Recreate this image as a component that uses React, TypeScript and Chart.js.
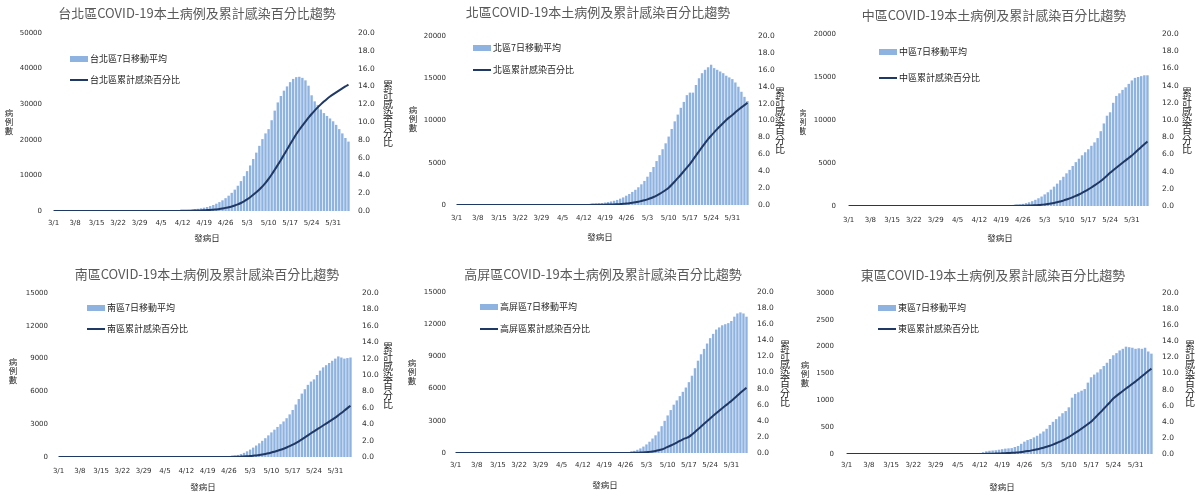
import React, { useEffect, useRef } from 'react';
import { Chart, registerables } from 'chart.js';

Chart.register(...registerables);

// ---------- categories ----------
const dates = [
  '3/1','3/2','3/3','3/4','3/5','3/6','3/7','3/8','3/9','3/10','3/11','3/12','3/13','3/14',
  '3/15','3/16','3/17','3/18','3/19','3/20','3/21','3/22','3/23','3/24','3/25','3/26','3/27','3/28',
  '3/29','3/30','3/31','4/1','4/2','4/3','4/4','4/5','4/6','4/7','4/8','4/9','4/10','4/11',
  '4/12','4/13','4/14','4/15','4/16','4/17','4/18','4/19','4/20','4/21','4/22','4/23','4/24','4/25',
  '4/26','4/27','4/28','4/29','4/30','5/1','5/2','5/3','5/4','5/5','5/6','5/7','5/8','5/9',
  '5/10','5/11','5/12','5/13','5/14','5/15','5/16','5/17','5/18','5/19','5/20','5/21','5/22','5/23',
  '5/24','5/25','5/26','5/27','5/28','5/29','5/30','5/31','6/1','6/2','6/3','6/4','6/5',
];

const shownTicks = ['3/1','3/8','3/15','3/22','3/29','4/5','4/12','4/19','4/26','5/3','5/10','5/17','5/24','5/31'];

// ---------- series: 7-day moving average of cases ----------
const taipeiCases = [
  0,0,0,1,1,1,1,1,2,2,2,2,3,3,
  3,4,4,5,5,6,6,7,8,9,10,11,12,14,
  16,18,20,23,27,32,38,45,55,68,85,105,130,160,
  200,250,320,400,500,620,760,930,1130,1380,1680,2050,2500,3000,
  3600,4300,5100,6000,7100,8400,9800,11200,12800,14600,16400,18300,20200,21800,
  23000,25500,28200,30500,32300,33800,35000,36200,37100,37600,37700,37400,36700,35200,
  32500,30800,29800,28500,27500,26700,26000,25200,24200,23000,21800,20500,19500,
];
const northCases = [
  1,1,1,1,1,1,2,2,2,2,2,3,3,3,
  3,4,4,4,5,5,6,6,7,8,9,10,11,12,
  13,15,17,19,22,25,29,33,38,44,51,60,70,82,
  96,112,130,150,175,205,240,290,350,420,500,600,750,900,
  1100,1300,1550,1800,2100,2450,2850,3350,3900,4500,5200,5900,6600,7300,
  8100,9000,9900,10700,11500,12200,13000,13300,13300,14200,15000,15600,16000,16300,
  16600,16200,16000,15800,15600,15300,15100,14900,14500,14000,13400,12800,12300,
];
const centralCases = [
  0,0,0,0,0,0,0,0,0,0,0,1,1,1,
  1,1,1,1,2,2,2,2,2,3,3,3,3,4,
  4,5,5,6,7,8,9,10,11,13,15,18,22,28,
  35,40,45,50,55,62,70,80,90,100,115,130,150,180,
  250,330,430,560,720,900,1100,1350,1600,1900,2250,2600,3000,3400,
  3800,4200,4650,5100,5500,5900,6250,6600,7000,7400,7900,8700,9600,10500,
  10900,12000,12800,13100,13500,13800,14200,14600,14900,15000,15100,15200,15200,
];
const southCases = [
  0,0,0,0,0,0,0,0,0,0,1,1,1,1,
  1,1,1,1,1,2,2,2,2,2,2,3,3,3,
  3,3,4,4,4,5,5,5,6,6,7,7,8,9,
  10,12,14,16,18,20,23,26,30,34,38,43,48,55,
  65,90,130,190,270,380,520,680,860,1050,1250,1480,1720,1980,
  2250,2500,2750,3000,3250,3550,3900,4300,4800,5300,5800,6200,6600,6900,
  7100,7500,7900,8200,8400,8600,8800,9000,9200,9100,9000,9050,9100,
];
const kaopingCases = [
  0,0,0,0,0,0,0,0,0,0,0,1,1,1,
  1,1,1,1,1,1,2,2,2,2,2,2,3,3,
  3,3,3,3,4,4,4,4,5,5,5,6,6,7,
  8,9,10,11,12,13,14,16,18,21,24,28,33,40,
  50,80,130,200,300,430,600,800,1050,1350,1650,2000,2500,3000,
  3500,4000,4500,4900,5300,5700,6100,6600,7200,7900,8600,9200,9700,10200,
  10700,11100,11500,11700,11900,12000,12100,12300,12700,13000,13100,13000,12700,
];
const eastCases = [
  0,0,0,0,0,0,0,0,0,0,0,0,0,0,
  0,0,0,0,0,0,0,0,1,1,1,1,1,1,
  1,1,1,2,2,2,2,3,3,4,5,6,8,12,
  20,35,50,60,65,70,80,90,100,105,110,130,150,190,
  230,260,280,310,340,380,420,470,540,600,650,700,760,800,
  870,1050,1120,1150,1180,1210,1330,1430,1480,1520,1580,1640,1700,1770,
  1840,1880,1930,1960,2000,1990,1980,1960,1970,1960,1980,1910,1870,
];

// ---------- series: cumulative infection percentage ----------
const taipeiPct = [
  0,0,0,0,0,0,0,0,0,0,0,0,0,0,
  0,0,0,0,0,0,0,0,0,0,0,0,0,0,
  0,0,0,0,0,0,0,0,0.01,0.01,0.01,0.01,0.01,0.01,
  0.02,0.02,0.03,0.04,0.05,0.06,0.07,0.08,0.10,0.12,0.15,0.18,0.22,0.28,
  0.35,0.42,0.51,0.62,0.75,0.90,1.08,1.30,1.55,1.82,2.11,2.42,2.76,3.15,
  3.60,4.10,4.63,5.18,5.74,6.31,6.90,7.50,8.07,8.62,9.13,9.60,10.05,10.48,
  10.90,11.28,11.64,11.98,12.30,12.59,12.86,13.10,13.33,13.56,13.78,14.00,14.20,
];
const northPct = [
  0,0,0,0,0,0,0,0,0,0,0,0,0,0,
  0,0,0,0,0,0,0,0,0,0,0,0,0,0,
  0,0,0,0,0,0,0,0,0.01,0.01,0.01,0.01,0.01,0.01,
  0.01,0.01,0.01,0.02,0.02,0.03,0.03,0.04,0.05,0.06,0.07,0.09,0.11,0.14,
  0.17,0.21,0.26,0.32,0.39,0.47,0.56,0.67,0.80,0.95,1.12,1.32,1.54,1.78,
  2.05,2.40,2.78,3.18,3.58,4.00,4.42,4.85,5.35,5.85,6.35,6.85,7.33,7.80,
  8.20,8.60,8.98,9.35,9.71,10.05,10.37,10.65,10.97,11.27,11.55,11.82,12.10,
];
const centralPct = [
  0,0,0,0,0,0,0,0,0,0,0,0,0,0,
  0,0,0,0,0,0,0,0,0,0,0,0,0,0,
  0,0,0,0,0,0,0,0,0,0,0,0,0,0,
  0,0,0,0,0.01,0.01,0.01,0.01,0.01,0.01,0.01,0.01,0.02,0.02,
  0.03,0.04,0.05,0.07,0.09,0.11,0.14,0.18,0.23,0.29,0.36,0.44,0.53,0.63,
  0.75,0.88,1.02,1.17,1.34,1.52,1.72,1.93,2.15,2.39,2.64,2.91,3.20,3.52,
  3.86,4.16,4.45,4.74,5.03,5.31,5.59,5.87,6.20,6.53,6.86,7.19,7.50,
];
const southPct = [
  0,0,0,0,0,0,0,0,0,0,0,0,0,0,
  0,0,0,0,0,0,0,0,0,0,0,0,0,0,
  0,0,0,0,0,0,0,0,0,0,0,0,0,0,
  0,0,0,0,0,0,0,0,0,0,0,0,0.01,0.01,
  0.01,0.02,0.03,0.04,0.05,0.07,0.09,0.12,0.15,0.19,0.24,0.30,0.37,0.45,
  0.55,0.65,0.76,0.88,1.01,1.16,1.32,1.50,1.70,1.91,2.14,2.39,2.64,2.90,
  3.12,3.36,3.60,3.84,4.08,4.32,4.56,4.80,5.08,5.36,5.66,5.96,6.26,
];
const kaopingPct = [
  0,0,0,0,0,0,0,0,0,0,0,0,0,0,
  0,0,0,0,0,0,0,0,0,0,0,0,0,0,
  0,0,0,0,0,0,0,0,0,0,0,0,0,0,
  0,0,0,0,0,0,0,0,0,0,0,0,0,0.01,
  0.01,0.01,0.02,0.03,0.04,0.05,0.07,0.10,0.14,0.19,0.25,0.33,0.43,0.58,
  0.75,0.93,1.11,1.30,1.50,1.70,1.85,2.00,2.30,2.62,2.95,3.28,3.62,3.96,
  4.30,4.62,4.94,5.25,5.56,5.86,6.16,6.46,6.80,7.14,7.47,7.79,8.10,
];
const eastPct = [
  0,0,0,0,0,0,0,0,0,0,0,0,0,0,
  0,0,0,0,0,0,0,0,0,0,0,0,0,0,
  0,0,0,0,0,0,0,0,0,0,0,0,0,0,
  0.01,0.01,0.02,0.03,0.04,0.05,0.06,0.08,0.10,0.12,0.14,0.17,0.20,0.24,
  0.30,0.36,0.42,0.50,0.58,0.68,0.78,0.90,1.03,1.17,1.33,1.50,1.69,1.89,
  2.10,2.36,2.62,2.88,3.15,3.43,3.72,4.00,4.40,4.80,5.20,5.62,6.04,6.46,
  6.90,7.22,7.53,7.83,8.13,8.42,8.71,9.00,9.33,9.66,9.98,10.30,10.60,
];

// ---------- styling / layout ----------
const BAR_COLOR = '#8fb3e1';
const LINE_COLOR = '#1f3864';
const TICK_COLOR = '#2e2e2e';
const TEXT_COLOR = '#1e1e1e';
const TITLE_COLOR = '#595959';
const CJK = '"Noto Sans CJK TC", "Noto Sans CJK SC", sans-serif';
const TICK_FONT = '"DejaVu Sans", sans-serif';

type PanelCfg = {
  key: string;
  name: string;
  cases: number[];
  pct: number[];
  yMax: number;
  yStep: number;
  box: { x: number; y: number; w: number; h: number };
  area: { l: number; r: number; t: number; b: number };
  pad: { l: number; r: number; x: number };
  title: { x: number; y: number };
  legend: { x: number; y: number; gap: number };
  leftTitle: { x: number; y: number };
  rightTitle: { x: number; y: number };
  xTitle: { x: number; y: number };
};

const panels: PanelCfg[] = [
  {
    key: 'taipei', name: '台北區', cases: taipeiCases, pct: taipeiPct, yMax: 50000, yStep: 10000,
    box: { x: 0, y: 0, w: 400, h: 250 }, area: { l: 52, r: 350, t: 33, b: 211 }, pad: { l: 10, r: 8, x: 8 },
    title: { x: 197, y: 13 }, legend: { x: 70, y: 59, gap: 21 },
    leftTitle: { x: 9, y: 113 }, rightTitle: { x: 388, y: 85 }, xTitle: { x: 207, y: 238 },
  },
  {
    key: 'north', name: '北區', cases: northCases, pct: northPct, yMax: 20000, yStep: 5000,
    box: { x: 400, y: 0, w: 400, h: 250 }, area: { l: 55, r: 349, t: 36, b: 205 }, pad: { l: 9, r: 9, x: 9 },
    title: { x: 198, y: 12 }, legend: { x: 73, y: 48, gap: 22 },
    leftTitle: { x: 13, y: 110 }, rightTitle: { x: 380, y: 92 }, xTitle: { x: 200, y: 237 },
  },
  {
    key: 'central', name: '中區', cases: centralCases, pct: centralPct, yMax: 20000, yStep: 5000,
    box: { x: 800, y: 0, w: 399, h: 250 }, area: { l: 47, r: 349, t: 34, b: 206 }, pad: { l: 11, r: 13, x: 10 },
    title: { x: 194, y: 15 }, legend: { x: 79, y: 52, gap: 26 },
    leftTitle: { x: 2, y: 113 }, rightTitle: { x: 387, y: 92 }, xTitle: { x: 200, y: 238 },
  },
  {
    key: 'south', name: '南區', cases: southCases, pct: southPct, yMax: 15000, yStep: 3000,
    box: { x: 0, y: 250, w: 400, h: 245 }, area: { l: 57, r: 352, t: 43, b: 207 }, pad: { l: 9, r: 10, x: 10 },
    title: { x: 207, y: 24 }, legend: { x: 87, y: 58, gap: 21 },
    leftTitle: { x: 13, y: 112 }, rightTitle: { x: 388, y: 97 }, xTitle: { x: 203, y: 237 },
  },
  {
    key: 'kaoping', name: '高屏區', cases: kaopingCases, pct: kaopingPct, yMax: 15000, yStep: 3000,
    box: { x: 400, y: 250, w: 400, h: 245 }, area: { l: 54, r: 348, t: 42, b: 203 }, pad: { l: 8, r: 9, x: 8 },
    title: { x: 203, y: 24 }, legend: { x: 80, y: 57, gap: 22 },
    leftTitle: { x: 12, y: 113 }, rightTitle: { x: 385, y: 95 }, xTitle: { x: 205, y: 235 },
  },
  {
    key: 'east', name: '東區', cases: eastCases, pct: eastPct, yMax: 3000, yStep: 500,
    box: { x: 800, y: 250, w: 399, h: 245 }, area: { l: 45, r: 353, t: 43, b: 204 }, pad: { l: 11, r: 9, x: 7 },
    title: { x: 193, y: 25 }, legend: { x: 78, y: 58, gap: 21 },
    leftTitle: { x: 5, y: 115 }, rightTitle: { x: 390, y: 95 }, xTitle: { x: 202, y: 237 },
  },
];

function makeDecor(p: PanelCfg) {
  return {
    id: 'decor-' + p.key,
    afterDraw(chart: Chart) {
      const ctx = chart.ctx;
      ctx.save();
      ctx.textAlign = 'center';
      ctx.textBaseline = 'middle';
      // title
      ctx.fillStyle = TITLE_COLOR;
      ctx.font = `13px ${CJK}`;
      ctx.fillText(`${p.name}COVID-19本土病例及累計感染百分比趨勢`, p.title.x, p.title.y);
      // legend
      const lx = p.legend.x;
      const ly = p.legend.y;
      ctx.fillStyle = BAR_COLOR;
      ctx.fillRect(lx, ly - 3, 18, 6);
      ctx.strokeStyle = LINE_COLOR;
      ctx.lineWidth = 2;
      ctx.beginPath();
      ctx.moveTo(lx, ly + p.legend.gap);
      ctx.lineTo(lx + 18, ly + p.legend.gap);
      ctx.stroke();
      ctx.fillStyle = TEXT_COLOR;
      ctx.font = `9px ${CJK}`;
      ctx.textAlign = 'left';
      ctx.fillText(`${p.name}7日移動平均`, lx + 20, ly);
      ctx.fillText(`${p.name}累計感染百分比`, lx + 20, ly + p.legend.gap);
      // axis titles (upright stacked characters)
      ctx.textAlign = 'center';
      ctx.font = `8.5px ${CJK}`;
      ['病', '例', '數'].forEach((c, i) => ctx.fillText(c, p.leftTitle.x, p.leftTitle.y + i * 9));
      ctx.font = `10px ${CJK}`;
      ['累', '計', '感', '染', '百', '分', '比'].forEach((c, i) =>
        ctx.fillText(c, p.rightTitle.x, p.rightTitle.y + i * 9.6)
      );
      ctx.font = `8.5px ${CJK}`;
      ctx.fillText('發病日', p.xTitle.x, p.xTitle.y);
      ctx.restore();
    },
  };
}

function Panel({ p }: { p: PanelCfg }) {
  const ref = useRef<HTMLCanvasElement | null>(null);
  useEffect(() => {
    if (!ref.current) return;
    const chart = new Chart(ref.current, {
      type: 'bar',
      data: {
        labels: dates,
        datasets: [
          {
            type: 'line',
            label: `${p.name}累計感染百分比`,
            data: p.pct,
            yAxisID: 'y1',
            borderColor: LINE_COLOR,
            backgroundColor: LINE_COLOR,
            borderWidth: 2,
            pointRadius: 0,
            tension: 0.2,
            order: 0,
          } as any,
          {
            type: 'bar',
            label: `${p.name}7日移動平均`,
            data: p.cases,
            yAxisID: 'y',
            backgroundColor: BAR_COLOR,
            borderWidth: 0,
            barPercentage: 0.78,
            categoryPercentage: 1,
            order: 1,
          } as any,
        ],
      },
      options: {
        responsive: true,
        maintainAspectRatio: false,
        animation: false,
        events: [],
        layout: { padding: { top: p.area.t, left: 0, right: 0, bottom: 0 } },
        plugins: {
          legend: { display: false },
          title: { display: false },
          tooltip: { enabled: false },
        },
        scales: {
          x: {
            grid: { display: false, drawTicks: false },
            border: { display: false },
            ticks: {
              autoSkip: false,
              maxRotation: 0,
              minRotation: 0,
              padding: p.pad.x,
              color: TICK_COLOR,
              font: { family: TICK_FONT, size: 7 },
              callback: (_v: any, i: number) => (shownTicks.includes(dates[i]) ? dates[i] : ''),
            },
            afterFit: (s: any) => {
              s.height = p.box.h - p.area.b;
            },
          },
          y: {
            position: 'left',
            min: 0,
            max: p.yMax,
            grid: { display: false, drawTicks: false },
            border: { display: false },
            ticks: {
              stepSize: p.yStep,
              padding: p.pad.l,
              color: TICK_COLOR,
              font: { family: TICK_FONT, size: 7 },
              callback: (v: any) => String(v),
            },
            afterFit: (s: any) => {
              s.width = p.area.l;
            },
          },
          y1: {
            position: 'right',
            min: 0,
            max: 20,
            grid: { display: false, drawTicks: false },
            border: { display: false },
            ticks: {
              stepSize: 2,
              padding: p.pad.r,
              color: TICK_COLOR,
              font: { family: TICK_FONT, size: 7.5 },
              callback: (v: any) => Number(v).toFixed(1),
            },
            afterFit: (s: any) => {
              s.width = p.box.w - p.area.r;
            },
          },
        },
      } as any,
      plugins: [makeDecor(p)],
    });
    return () => chart.destroy();
  }, [p]);
  return (
    <div style={{ position: 'absolute', left: p.box.x, top: p.box.y, width: p.box.w, height: p.box.h }}>
      <canvas ref={ref} />
    </div>
  );
}

export default function App() {
  return (
    <div
      style={{
        position: 'absolute',
        left: 0,
        top: 0,
        width: 1199,
        height: 495,
        background: '#ffffff',
        overflow: 'hidden',
      }}
    >
      {panels.map((p) => (
        <Panel key={p.key} p={p} />
      ))}
    </div>
  );
}
